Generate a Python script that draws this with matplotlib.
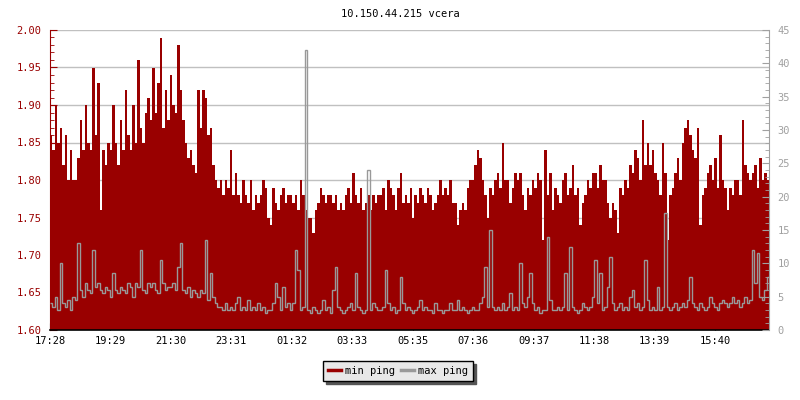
import numpy as np
import matplotlib
matplotlib.use("Agg")
import matplotlib.pyplot as plt
from matplotlib.ticker import MultipleLocator

# chart data: one sample every 5 minutes, starting at 17:28
sample_minutes = 5
start_label = "17:28"
tick_labels = ["17:28", "19:29", "21:30", "23:31", "01:32", "03:33",
               "05:35", "07:36", "09:37", "11:38", "13:39", "15:40"]

# min ping (left axis, ms)
min_ping = [
    1.86, 1.84, 1.90, 1.85, 1.87, 1.82, 1.86, 1.80, 1.84, 1.80,
    1.80, 1.83, 1.88, 1.84, 1.90, 1.85, 1.84, 1.95, 1.86, 1.93,
    1.76, 1.84, 1.82, 1.85, 1.84, 1.90, 1.85, 1.82, 1.88, 1.84,
    1.92, 1.86, 1.84, 1.90, 1.85, 1.96, 1.87, 1.85, 1.89, 1.91,
    1.88, 1.95, 1.89, 1.93, 1.99, 1.87, 1.92, 1.88,
    1.94, 1.90, 1.89, 1.98, 1.92, 1.88, 1.85, 1.83, 1.84, 1.82,
    1.81, 1.92, 1.87, 1.92, 1.91, 1.86, 1.87, 1.82, 1.80, 1.79,
    1.80, 1.78, 1.80, 1.79, 1.84, 1.78, 1.81, 1.78, 1.77, 1.80,
    1.78, 1.77, 1.80, 1.76, 1.78, 1.77, 1.78, 1.80, 1.79, 1.75,
    1.74, 1.79, 1.77, 1.76, 1.78, 1.79, 1.77, 1.78,
    1.78, 1.77, 1.78, 1.76, 1.80, 1.78, 1.76, 1.75, 1.75, 1.73,
    1.76, 1.77, 1.79, 1.78, 1.77, 1.78, 1.78, 1.77, 1.78, 1.76,
    1.77, 1.76, 1.78, 1.79, 1.77, 1.81, 1.78, 1.77, 1.79, 1.76,
    1.77, 1.78, 1.76, 1.78, 1.77, 1.78, 1.78, 1.79, 1.76, 1.80,
    1.79, 1.78, 1.76, 1.79, 1.81, 1.77, 1.78, 1.77,
    1.79, 1.75, 1.78, 1.77, 1.79, 1.78, 1.77, 1.79, 1.78, 1.76,
    1.77, 1.78, 1.80, 1.78, 1.79, 1.78, 1.80, 1.77, 1.77, 1.74,
    1.76, 1.77, 1.76, 1.79, 1.80, 1.80, 1.82, 1.84, 1.83, 1.80,
    1.78, 1.75, 1.79, 1.78, 1.80, 1.81, 1.79, 1.85, 1.80, 1.80,
    1.77, 1.79, 1.81, 1.80, 1.81, 1.78, 1.76, 1.79,
    1.78, 1.80, 1.79, 1.81, 1.80, 1.72, 1.84, 1.78, 1.81, 1.76,
    1.79, 1.78, 1.77, 1.80, 1.81, 1.78, 1.79, 1.82, 1.78, 1.79,
    1.74, 1.77, 1.78, 1.80, 1.79, 1.81, 1.81, 1.79, 1.82, 1.80,
    1.80, 1.77, 1.75, 1.77, 1.76, 1.73, 1.79, 1.78, 1.80, 1.79,
    1.82, 1.81, 1.84, 1.83, 1.80, 1.88, 1.82, 1.85,
    1.82, 1.84, 1.81, 1.80, 1.78, 1.85, 1.81, 1.72, 1.78, 1.79,
    1.81, 1.83, 1.80, 1.85, 1.87, 1.88, 1.86, 1.84, 1.83, 1.87,
    1.74, 1.78, 1.79, 1.81, 1.82, 1.80, 1.83, 1.79, 1.86, 1.80,
    1.79, 1.76, 1.79, 1.78, 1.80, 1.80, 1.78, 1.88, 1.82, 1.81,
    1.80, 1.81, 1.82, 1.79, 1.83, 1.80, 1.81, 1.80,
]

# max ping (right axis, ms)
max_ping = [
    4, 3.5, 5, 3, 10, 4, 3.5, 4.5, 3, 5,
    4.5, 13, 6, 5, 7, 6, 5.5, 12, 6.5, 7,
    6, 5.5, 6.5, 6, 5, 8.5, 6, 5.5, 6.5, 6,
    5.5, 7, 6.5, 5, 7, 6.5, 12, 6, 5.5, 7,
    6.5, 7, 6, 5.5, 10.5, 7, 6, 6.5,
    6.5, 7, 6, 9.5, 13, 6, 5.5, 6.5, 5, 6,
    5.5, 5, 6, 5.5, 13.5, 4.5, 8.5, 5, 4, 3.5,
    3.5, 3, 4, 3, 3.5, 3, 4, 5, 3, 3.5,
    3, 4.5, 3, 3.5, 3, 4, 3, 3.5, 2.5, 3,
    3, 4, 7, 5, 3, 6.5, 3.5, 4,
    3, 4, 12, 9, 3, 3.5, 42, 3, 2.5, 3.5,
    3, 2.5, 3, 4.5, 3, 3.5, 2.5, 6, 9.5, 3.5,
    3, 2.5, 3, 3.5, 4, 3, 8.5, 3.5, 3, 2.5,
    3, 24, 3, 4, 3.5, 3, 3, 3.5, 9, 4,
    3, 3.5, 2.5, 3, 8, 4, 3, 3.5,
    3, 2.5, 3, 3.5, 4.5, 3, 3.5, 3, 3, 2.5,
    4, 3, 3, 2.5, 3, 3, 4, 3, 3, 4.5,
    3, 3.5, 3, 2.5, 3, 3.5, 3, 3, 4, 5,
    9.5, 3.5, 15, 3.5, 3, 3.5, 3, 4, 3, 3.5,
    5.5, 3, 3.5, 3, 10, 4, 3.5, 5,
    8.5, 4, 3, 3.5, 2.5, 3, 3, 14, 4.5, 3,
    3, 3.5, 3, 3.5, 8.5, 3, 12.5, 3.5, 3, 2.5,
    3, 4, 3.5, 3, 3.5, 5, 10.5, 4, 8.5, 3,
    3.5, 6.5, 11, 4, 3, 3.5, 4, 3, 3.5, 3,
    5, 6, 3.5, 4, 3, 3.5, 10.5, 4.5,
    3, 3.5, 3, 6.5, 3, 3.5, 17.5, 3.5, 3, 3.5,
    4, 3, 3.5, 4, 3.5, 4.5, 8, 4, 3.5, 3,
    4, 3.5, 3, 3.5, 5, 4, 3.5, 3, 4, 4.5,
    4, 3.5, 4, 5, 4, 4.5, 3.5, 4, 5, 4,
    4.5, 12, 7, 11.5, 5, 4.5, 6, 8,
]

RED = "#990000"
GRAY = "#999999"
FONT = "DejaVu Sans Mono"
FS = 7.5


def to_minutes(label):
    h, m = label.split(":")
    return int(h) * 60 + int(m)


def main():
    assert len(min_ping) == len(max_ping)
    n = len(min_ping)
    edges = np.arange(n + 1) * sample_minutes

    start = to_minutes(start_label)
    tick_pos = [(to_minutes(t) - start) % 1440 for t in tick_labels]

    plt.rcParams["font.family"] = FONT
    fig = plt.figure(figsize=(8, 4), dpi=100)
    ax = fig.add_axes([50 / 800, 70 / 400, 719 / 800, 300 / 400])
    ax2 = ax.twinx()

    ax.stairs(min_ping, edges, fill=True, baseline=1.6, color=RED,
              label="min ping", zorder=2)
    ax2.stairs(max_ping, edges, color=GRAY, linewidth=1, baseline=None,
               label="max ping")

    ax.set_xlim(0, n * sample_minutes)
    ax.set_ylim(1.6, 2.0)
    ax2.set_ylim(0, 45)

    ax.set_axisbelow(True)
    ax.yaxis.set_major_locator(MultipleLocator(0.05))
    ax.yaxis.set_minor_locator(MultipleLocator(0.01))
    ax.yaxis.set_major_formatter(lambda v, p: f"{v:.2f}")
    ax.grid(axis="y", color="#c0c0c0", linewidth=1)
    ax2.yaxis.set_major_locator(MultipleLocator(5))
    ax2.yaxis.set_minor_locator(MultipleLocator(1))

    ax.set_xticks(tick_pos)
    ax.set_xticklabels(tick_labels)

    ax.tick_params(axis="y", which="both", direction="in", colors=RED,
                   labelsize=FS, pad=6)
    ax.tick_params(axis="y", which="major", length=5)
    ax.tick_params(axis="y", which="minor", length=3)
    ax.tick_params(axis="x", direction="in", length=5, labelsize=FS,
                   colors="black", pad=4)
    ax2.tick_params(axis="y", which="both", direction="in", colors="#a0a0a0",
                    labelsize=FS, pad=6)
    ax2.tick_params(axis="y", which="major", length=5)
    ax2.tick_params(axis="y", which="minor", length=3)

    for a in (ax, ax2):
        a.spines["top"].set_visible(False)
    ax.spines["right"].set_visible(False)
    ax2.spines["left"].set_visible(False)
    ax2.spines["bottom"].set_visible(False)
    ax.spines["left"].set_color(RED)
    ax2.spines["right"].set_color("#a0a0a0")
    ax.spines["bottom"].set_color("black")
    ax.spines["bottom"].set_linewidth(1.2)

    fig.text(0.5, 1 - 14 / 400, "10.150.44.215 vcera", ha="center",
             va="center", fontsize=FS, color="black")

    handles = [plt.Line2D([], [], color=RED, linewidth=2.5),
               plt.Line2D([], [], color=GRAY, linewidth=2.5)]
    fig.legend(handles, ["min ping", "max ping"], loc="center",
               bbox_to_anchor=(398 / 800, 1 - 371 / 400), ncol=2,
               fontsize=FS, frameon=True, fancybox=False,
               edgecolor="black", facecolor="#e8e8e8", framealpha=1,
               shadow={"color": "#555555", "alpha": 1},
               handlelength=1.2, handletextpad=0.4, columnspacing=0.6,
               borderpad=0.5)

    fig.savefig("out.png", dpi=100)


if __name__ == "__main__":
    main()
